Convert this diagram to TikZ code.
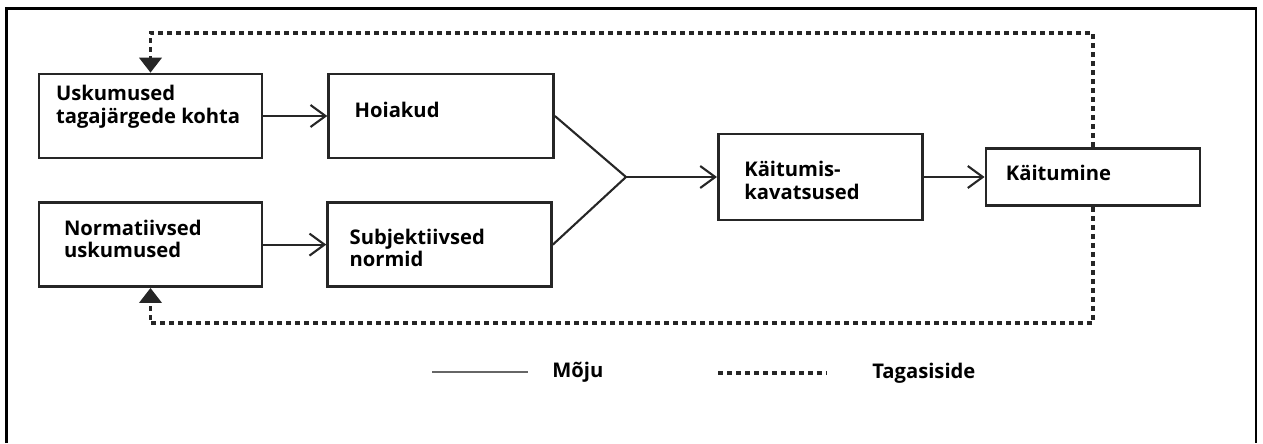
\documentclass[tikz,border=0pt]{standalone}
\usepackage{fontspec}
\setmainfont{Open Sans}
\usepackage{tikz}
\usetikzlibrary{positioning, arrows.meta}
\tikzstyle{kast} = [rectangle, draw=black!85, line width=1.5pt, inner sep=0pt, minimum height=1.68cm]
\tikzstyle{tekst} = [font=\bfseries\fontsize{11.5}{13}\selectfont, align=left, inner sep=0pt]
\tikzstyle{arrow} = [draw=black!85, line width=1.2pt, -{Straight Barb[length=0.3cm, width=0.44cm, line width=1.2pt]}]
\tikzstyle{joon} = [draw=black!85, line width=1.2pt]
\tikzstyle{tagasi} = [draw=black!85, line width=2.2pt, dash pattern=on 0.1cm off 0.08cm]
\tikzstyle{tagasinool} = [tagasi, -{Triangle[length=0.3cm, width=0.44cm]}]

\begin{document}
\begin{tikzpicture}[x=0.02cm, y=-0.02cm, node distance=1cm]
    \useasboundingbox (0,0) rectangle (1263,443);
    \draw[line width=1.5pt] (6.5,443) -- (6.5,8.5) -- (1256,8.5) -- (1256,443);

    \node[kast, minimum width=4.46cm] (11) at (150.5,116) {};
    \node[kast, minimum width=4.46cm, below=0.84cm of 11] (12) {};
    \node[kast, minimum width=4.5cm, right=1.28cm of 11] (21) {};
    \node[kast, minimum width=4.48cm, right=1.26cm of 12] (22) {};
    \coordinate (j) at (626,177);
    \node[kast, minimum width=4.08cm, minimum height=1.72cm, right=1.82cm of j] (31) {};
    \node[kast, minimum width=4.28cm, minimum height=1.14cm, right=1.22cm of 31] (41) {};

    \node[tekst, below right=0.24cm and 0.36cm of 11.north west] (t11) {Uskumused\\tagajärgede kohta};
    \node[tekst, below right=0.36cm and 0.52cm of 12.north west] (t12) {Normatiivsed\\uskumused};
    \node[tekst, below right=0.58cm and 0.54cm of 21.north west] (t21) {Hoiakud};
    \node[tekst, below right=0.54cm and 0.46cm of 22.north west] (t22) {Subjektiivsed\\normid};
    \node[tekst, below right=0.56cm and 0.54cm of 31.north west] (t31) {Käitumis-\\kavatsused};
    \node[tekst, below right=0.36cm and 0.42cm of 41.north west] (t41) {Käitumine};

    \draw[arrow] (11) -- (21);
    \draw[arrow] (12) -- (22);
    \draw[joon] (21.east) -- (j);
    \draw[joon] (22.east) -- (j);
    \draw[arrow] (j) -- (31);
    \draw[arrow] (31) -- (41);

    \coordinate (ylemine) at (0,33);
    \coordinate (alumine) at (0,323);
    \draw[tagasinool] (41.north) -- (41.north |- ylemine) -| (11.north);
    \draw[tagasinool] (41.south) -- (41.south |- alumine) -| (12.south);

    \coordinate (m1) at (432,372);
    \coordinate (m2) at (528,372);
    \draw[draw=black!60, line width=1.2pt] (m1) -- (m2);
    \node[tekst, right=0.48cm of m2] (moju) {Mõju};
    \coordinate (s1) at (718,373);
    \coordinate (s2) at (827,373);
    \draw[tagasi] (s1) -- (s2);
    \node[tekst, right=0.9cm of s2] (tagasiside) {Tagasiside};

\end{tikzpicture}
\end{document}
